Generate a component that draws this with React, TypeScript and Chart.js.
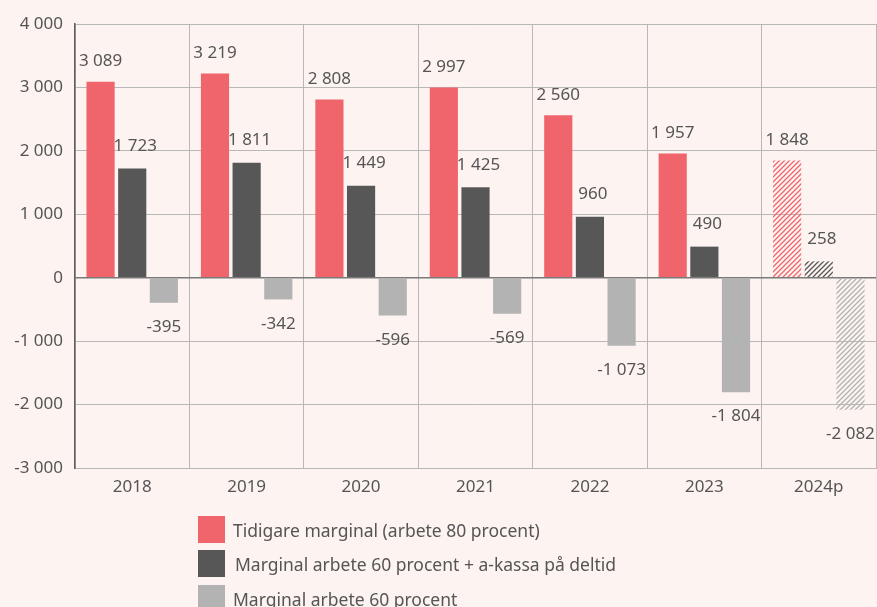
import React, { useEffect, useRef } from "react";
import { Chart, registerables } from "chart.js";
Chart.register(...registerables);

const categories = ["2018", "2019", "2020", "2021", "2022", "2023", "2024p"];
const tidigare = [3089, 3219, 2808, 2997, 2560, 1957, 1848];
const akassa = [1723, 1811, 1449, 1425, 960, 490, 258];
const marginal60 = [-395, -342, -596, -569, -1073, -1804, -2082];
const seriesNames = [
  "Tidigare marginal (arbete 80 procent)",
  "Marginal arbete 60 procent + a-kassa på deltid",
  "Marginal arbete 60 procent",
];
const hatchedIndex = 6;

const BG = "#fdf3f1";
const COLORS = ["#f0656c", "#575757", "#b2b3b2"];
const FONT = "'Noto Sans', 'Open Sans', sans-serif";
const TEXT = "#555555";

function fmt(v: number): string {
  const s = Math.abs(v).toString().replace(/\B(?=(\d{3})+(?!\d))/g, " ");
  return (v < 0 ? "-" : "") + s;
}

function makePattern(color: string): CanvasPattern | string {
  const size = 5;
  const c = document.createElement("canvas");
  c.width = size;
  c.height = size;
  const g = c.getContext("2d");
  if (!g) return color;
  g.strokeStyle = color;
  g.lineWidth = 1.3;
  g.beginPath();
  g.moveTo(0, size);
  g.lineTo(size, 0);
  g.moveTo(-1, 1);
  g.lineTo(1, -1);
  g.moveTo(size - 1, size + 1);
  g.lineTo(size + 1, size - 1);
  g.stroke();
  const p = g.createPattern(c, "repeat");
  return p || color;
}

const labelPlugin = {
  id: "barLabels",
  afterDatasetsDraw(chart: any) {
    const ctx = chart.ctx;
    ctx.save();
    ctx.font = `17px ${FONT}`;
    ctx.fillStyle = TEXT;
    ctx.textAlign = "center";
    chart.data.datasets.forEach((ds: any, di: number) => {
      const meta = chart.getDatasetMeta(di);
      meta.data.forEach((bar: any, i: number) => {
        const v = ds.data[i] as number;
        const x = bar.x + (di === 1 ? 3 : 0);
        if (v >= 0) {
          ctx.textBaseline = "bottom";
          ctx.fillText(fmt(v), x, bar.y - (di === 1 ? 14 : 12));
        } else {
          ctx.textBaseline = "top";
          ctx.fillText(fmt(v), x, bar.y + 16);
        }
      });
    });
    ctx.restore();
  },
};

export default function App() {
  const ref = useRef<HTMLCanvasElement | null>(null);

  useEffect(() => {
    document.body.style.margin = "0";
    document.body.style.background = BG;
    if (!ref.current) return;
    const series = [tidigare, akassa, marginal60];
    const chart = new Chart(ref.current, {
      type: "bar",
      data: {
        labels: categories,
        datasets: series.map((d, si) => {
          const pat = makePattern(COLORS[si]);
          return {
            label: seriesNames[si],
            data: d,
            backgroundColor: (c: any) => (c.dataIndex === hatchedIndex ? pat : COLORS[si]),
            borderWidth: 0,
            categoryPercentage: 0.83,
            barPercentage: 0.89,
          };
        }),
      },
      options: {
        responsive: false,
        animation: false,
        maintainAspectRatio: false,
        layout: { padding: { left: 0, right: 1, top: 24, bottom: 99 } },
        plugins: {
          legend: { display: false },
          tooltip: { enabled: false },
        },
        scales: {
          x: {
            offset: true,
            grid: { display: true, offset: true, color: "#b8b8b8", lineWidth: 1, drawTicks: false },
            border: { display: true, color: "#b8b8b8" },
            ticks: { color: TEXT, font: { family: FONT, size: 17 }, padding: 9 },
            afterFit: (s: any) => { s.height = 40; },
          },
          y: {
            min: -3000,
            max: 4000,
            ticks: {
              stepSize: 1000,
              color: TEXT,
              font: { family: FONT, size: 17 },
              padding: 12,
              callback: (v: any) => fmt(Number(v)),
            },
            grid: {
              color: (c: any) => (c.tick && c.tick.value === 0 ? "#7a7a7a" : "#b8b8b8"),
              lineWidth: (c: any) => (c.tick && c.tick.value === 0 ? 1.5 : 1),
              drawTicks: false,
            },
            border: { display: true, color: "#5e5e5e", width: 1.5 },
            afterFit: (s: any) => { s.width = 75; },
          },
        },
      },
      plugins: [labelPlugin],
    } as any);
    return () => chart.destroy();
  }, []);

  const legendTops = [516, 550, 585];

  return (
    <div style={{ position: "relative", width: 877, height: 607, background: BG, overflow: "hidden" }}>
      <canvas ref={ref} width={877} height={607} style={{ position: "absolute", left: 0, top: 0 }} />
      {seriesNames.map((name, i) => (
        <div key={name} style={{ position: "absolute", left: 198, top: legendTops[i], display: "flex", alignItems: "center", height: 27 }}>
          <div style={{ width: 27, height: 27, background: COLORS[i] }} />
          <span style={{ marginLeft: i === 1 ? 10 : 8, fontFamily: FONT, fontSize: 17.5, color: TEXT, whiteSpace: "nowrap" }}>{name}</span>
        </div>
      ))}
    </div>
  );
}
